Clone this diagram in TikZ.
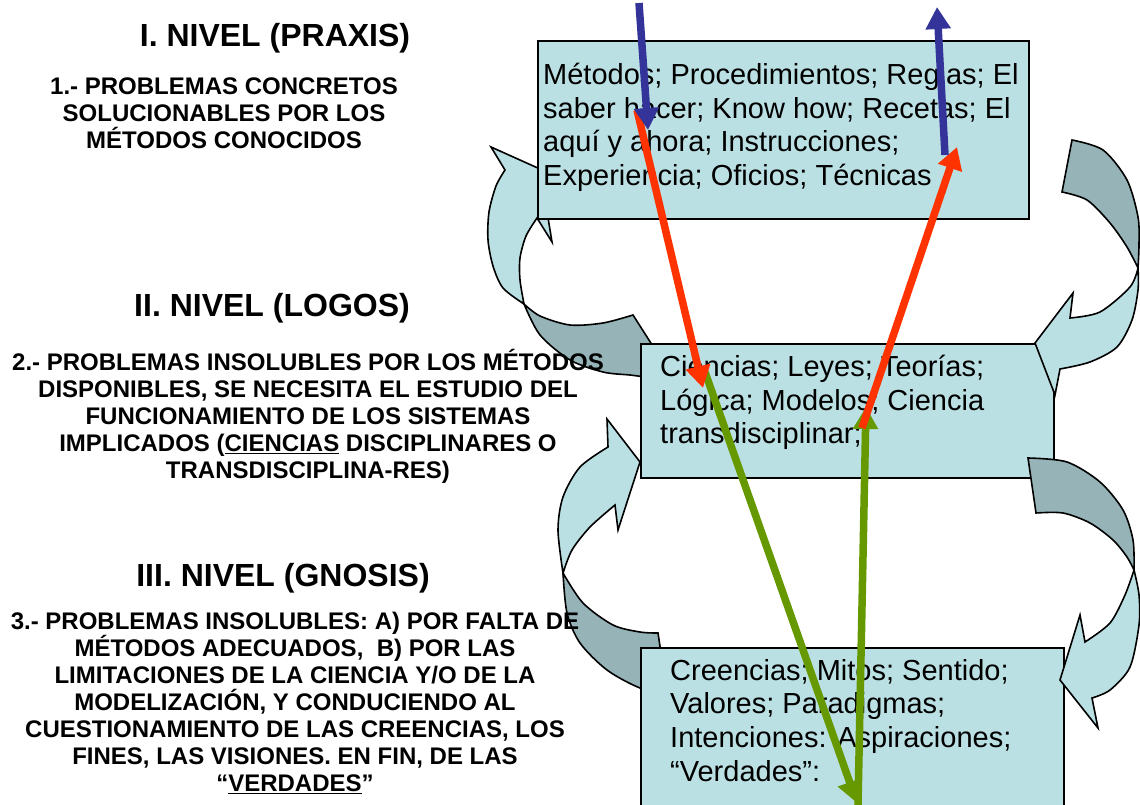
\documentclass[tikz,border=0pt]{standalone}
\usepackage{fontspec}
\setmainfont{Liberation Sans}
\usetikzlibrary{arrows.meta}

\begin{document}
\begin{tikzpicture}[x=1pt,y=-1pt]
	\definecolor{cajaazul}{RGB}{187,224,227}
	\definecolor{cajaosc}{RGB}{150,180,184}
	\definecolor{cazul}{RGB}{51,51,153}
	\definecolor{crojo}{RGB}{255,51,0}
	\definecolor{cverde}{RGB}{102,153,0}
	\tikzset{
		nivel/.style={
			rectangle, draw=black, fill=cajaazul, line width=1.8pt,
			inner sep=0pt, anchor=north west
		},
		txtcaja/.style={
			anchor=north west, inner sep=0pt, align=left,
			font=\fontsize{29}{33.6}\selectfont
		},
		titulo/.style={
			anchor=base, inner sep=0pt,
			font=\fontsize{32}{36}\selectfont\bfseries
		},
		parr/.style={
			anchor=north, inner sep=0pt, align=center,
			font=\fontsize{24}{27}\selectfont\bfseries
		},
		cinta/.style={fill=cajaazul, draw=black, line width=1.6pt},
		cintaosc/.style={fill=cajaosc, draw=black, line width=1.6pt},
		fazul/.style={
			-{Triangle[length=22pt,width=24pt]},
			draw=cazul, line width=7.5pt
		},
		frojo/.style={
			-{Triangle[length=22pt,width=24pt]},
			draw=crojo, line width=7.5pt
		},
		fverde/.style={
			-{Triangle[length=22pt,width=24pt]},
			draw=cverde, line width=7.5pt
		}
	}
	\useasboundingbox (0,0) rectangle (1140,805);
	
	% ======= Flechas curvas bajo las cajas =======
	% Logos -> Praxis (izquierda)
	\filldraw[cinta] plot[smooth] coordinates {(524,304) (503,288) (493,266) (488,240) (489,212) (496,186) (505,170)}
		-- (491,147) -- (540,169) -- (552,242)
		-- plot[smooth] coordinates {(537,218) (526,236) (520,258) (520,280) (524,304)} -- cycle;
	\filldraw[cintaosc] plot[smooth] coordinates {(524,304) (540,316) (570,325) (603,323) (633,315)}
		-- plot[smooth] coordinates {(670,373) (650,377) (630,375) (603,372) (570,360) (540,335) (524,304)} -- cycle;
	
	% Gnosis -> Logos (izquierda)
	\filldraw[cinta] plot[smooth] coordinates {(563,573) (558,530) (563,497) (580,467) (608,447)}
		-- (607,419) -- (640,462) -- (618,530)
		-- plot[smooth] coordinates {(615,505) (590,527) (572,550) (563,573)} -- cycle;
	\filldraw[cintaosc] plot[smooth] coordinates {(563,573) (583,603) (613,625) (640,632) (658,633)}
		-- plot[smooth] coordinates {(667,693) (640,688) (607,670) (580,643) (567,613) (563,573)} -- cycle;
	
	% ======= Cajas de los tres niveles =======
	\node[nivel, minimum width=491, minimum height=178] (praxis) at (537,40) {};
	\node[nivel, minimum width=413, minimum height=134] (logos) at (640,343) {};
	\node[nivel, minimum width=423, minimum height=170] (gnosis) at (640,647) {};
	
	% ======= Flechas curvas sobre las cajas =======
	% Praxis -> Logos (derecha)
	\filldraw[cintaosc] plot[smooth] coordinates {(1072,140) (1103,150) (1127,180) (1138,217) (1139,245) (1138,268)}
		-- plot[smooth] coordinates {(1138,268) (1127,247) (1110,223) (1087,200) (1062,192)} -- cycle;
	\filldraw[cinta] plot[smooth] coordinates {(1138,268) (1130,287) (1100,312) (1070,318)}
		-- (1073,293) -- (1035,343) -- (1055,395)
		-- plot[smooth] coordinates {(1060,369) (1090,362) (1117,347) (1132,320) (1138,290) (1138,268)} -- cycle;
	
	% Logos -> Gnosis (derecha)
	\filldraw[cintaosc] plot[smooth] coordinates {(1028,458) (1067,462) (1100,482) (1123,510) (1133,540) (1134,570)}
		-- plot[smooth] coordinates {(1134,570) (1127,557) (1113,540) (1090,523) (1063,513) (1036,513)} -- cycle;
	\filldraw[cinta] plot[smooth] coordinates {(1134,570) (1125,595) (1110,623) (1085,642)}
		-- (1080,615) -- (1060,680) -- (1098,728)
		-- plot[smooth] coordinates {(1092,698) (1110,690) (1130,667) (1139,625) (1139,595) (1134,570)} -- cycle;
	
	% ======= Textos de las cajas =======
	\node[txtcaja] (praxistxt) at (543,63) {Métodos; Procedimientos; Reglas; El\\
		saber hacer; Know how; Recetas; El\\
		aquí y ahora; Instrucciones;\\
		Experiencia; Oficios; Técnicas};
	\node[txtcaja] (logostxt) at (660,355) {Ciencias; Leyes; Teorías;\\
		Lógica; Modelos; Ciencia\\
		transdisciplinar;};
	\node[txtcaja] (gnosistxt) at (670,659) {Creencias; Mitos; Sentido;\\
		Valores; Paradigmas;\\
		Intenciones: Aspiraciones;\\
		“Verdades”:};
	
	% ======= Columna izquierda =======
	\node[titulo] (tit1) at (275,46.5) {I. NIVEL (PRAXIS)};
	\node[parr] (par1) at (224,78) {1.- PROBLEMAS CONCRETOS\\
		SOLUCIONABLES POR LOS\\
		MÉTODOS CONOCIDOS};
	
	\node[titulo] (tit2) at (272,316.5) {II. NIVEL (LOGOS)};
	\node[parr] (par2) at (308,349) {2.- PROBLEMAS INSOLUBLES POR LOS MÉTODOS\\
		DISPONIBLES, SE NECESITA EL ESTUDIO DEL\\
		FUNCIONAMIENTO DE LOS SISTEMAS\\
		IMPLICADOS (\underline{CIENCIAS} DISCIPLINARES O\\
		TRANSDISCIPLINA-RES)};
	
	\node[titulo] (tit3) at (283,586.5) {III. NIVEL (GNOSIS)};
	\node[parr] (par3) at (295,612) {3.- PROBLEMAS INSOLUBLES: A) POR FALTA DE\\
		MÉTODOS ADECUADOS,\ \ B) POR LAS\\
		LIMITACIONES DE LA CIENCIA Y/O DE LA\\
		MODELIZACIÓN, Y CONDUCIENDO AL\\
		CUESTIONAMIENTO DE LAS CREENCIAS, LOS\\
		FINES, LAS VISIONES. EN FIN, DE LAS\\
		“\underline{VERDADES}”};
	
	% ======= Flechas rectas =======
	\coordinate (az1a) at (639,3);
	\coordinate (az1b) at (648,130);
	\coordinate (az2a) at (945,155);
	\coordinate (az2b) at (937,7);
	\coordinate (ro1a) at (637,110);
	\coordinate (ro1b) at (703,388);
	\coordinate (ro2a) at (862,428);
	\coordinate (ro2b) at (957,147);
	\coordinate (ve1a) at (705,372);
	\coordinate (ve1b) at (857,803);
	\coordinate (ve2a) at (858,805);
	\coordinate (ve2b) at (866,407);
	
	\draw[fverde] (ve1a) -- (ve1b);
	\draw[fverde] (ve2a) -- (ve2b);
	\draw[frojo] (ro1a) -- (ro1b);
	\draw[frojo] (ro2a) -- (ro2b);
	\draw[fazul] (az1a) -- (az1b);
	\draw[fazul] (az2a) -- (az2b);
	
\end{tikzpicture}
\end{document}
